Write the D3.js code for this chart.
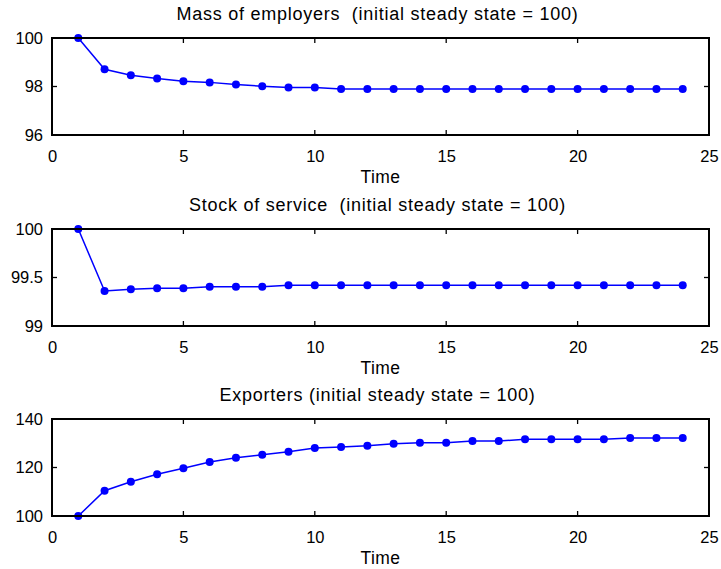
<!DOCTYPE html>
<html>
<head>
<meta charset="utf-8">
<script src="https://cdn.jsdelivr.net/npm/d3@7"></script>
<style>
  html, body { margin: 0; padding: 0; background: #fff; }
  svg text { font-family: "Liberation Sans", Arial, Helvetica, sans-serif; fill: #000; white-space: pre; }
</style>
</head>
<body>
<svg id="chart" width="721" height="569"></svg>
<script>
// Time periods of the impulse response
const time = d3.range(1, 25);

// Mass of employers (initial steady state = 100)
const employers = [100, 98.71, 98.46, 98.33, 98.22, 98.17, 98.08, 98.01, 97.96, 97.96, 97.90, 97.90,
  97.90, 97.90, 97.90, 97.90, 97.90, 97.90, 97.90, 97.90, 97.90, 97.90, 97.90, 97.90];

// Stock of service (initial steady state = 100)
const service = [100, 99.36, 99.38, 99.39, 99.39, 99.405, 99.405, 99.405, 99.42, 99.42, 99.42, 99.42,
  99.42, 99.42, 99.42, 99.42, 99.42, 99.42, 99.42, 99.42, 99.42, 99.42, 99.42, 99.42];

// Exporters (initial steady state = 100)
const exporters = [100, 110.4, 114.1, 117.2, 119.7, 122.3, 124.0, 125.3, 126.5, 128.0, 128.5, 129.0,
  129.8, 130.2, 130.2, 130.9, 130.9, 131.6, 131.6, 131.6, 131.6, 132.2, 132.2, 132.2];

const titles = [
  "Mass of employers  (initial steady state = 100)",
  "Stock of service  (initial steady state = 100)",
  "Exporters (initial steady state = 100)"
];
const xTicks = [0, 5, 10, 15, 20, 25];
const yDomains = [[96, 100], [99, 100], [100, 140]];
const yTicks = [[96, 98, 100], [99, 99.5, 100], [100, 120, 140]];
const xLabel = "Time";

const series = [employers, service, exporters];

const svg = d3.select("#chart");
const left = 52, right = 709;
const panelTops = [38, 229, 419];
const panelH = 97;
const color = "#0000ff";

const x = d3.scaleLinear().domain([0, 25]).range([left, right]);

series.forEach((vals, i) => {
  const top = panelTops[i], bottom = top + panelH;
  const y = d3.scaleLinear().domain(yDomains[i]).range([bottom, top]);
  const g = svg.append("g");

  // inward ticks on all four sides
  const tickLen = 5;
  const xt = g.append("g").attr("stroke", "#000").attr("stroke-width", 1.3);
  xTicks.forEach(t => {
    xt.append("line").attr("x1", x(t)).attr("x2", x(t)).attr("y1", bottom).attr("y2", bottom - tickLen);
    xt.append("line").attr("x1", x(t)).attr("x2", x(t)).attr("y1", top).attr("y2", top + tickLen);
  });
  yTicks[i].forEach(t => {
    xt.append("line").attr("x1", left).attr("x2", left + tickLen).attr("y1", y(t)).attr("y2", y(t));
    xt.append("line").attr("x1", right).attr("x2", right - tickLen).attr("y1", y(t)).attr("y2", y(t));
  });

  // bottom axis labels via d3 axis
  const xAxis = d3.axisBottom(x).tickValues(xTicks).tickSize(0).tickPadding(15).tickFormat(d3.format("d"));
  const xa = g.append("g").attr("transform", `translate(0,${bottom})`).call(xAxis);
  xa.select(".domain").remove();
  xa.selectAll("text").attr("font-size", 16.5).attr("font-family", null).attr("fill", "#000");

  const yAxis = d3.axisLeft(y).tickValues(yTicks[i]).tickSize(0).tickPadding(9).tickFormat(d => String(d));
  const ya = g.append("g").attr("transform", `translate(${left},0)`).call(yAxis);
  ya.select(".domain").remove();
  ya.selectAll("text").attr("font-size", 16.5).attr("font-family", null).attr("fill", "#000");

  // series line and markers
  const line = d3.line().x((d, k) => x(time[k])).y(d => y(d));
  g.append("path").datum(vals)
    .attr("d", line).attr("fill", "none").attr("stroke", color).attr("stroke-width", 1.5);
  g.selectAll("circle.pt").data(vals).join("circle")
    .attr("class", "pt")
    .attr("cx", (d, k) => x(time[k])).attr("cy", d => y(d)).attr("r", 4)
    .attr("fill", color);

  // axes box
  g.append("rect").attr("x", left).attr("y", top).attr("width", right - left).attr("height", panelH)
    .attr("fill", "none").attr("stroke", "#000").attr("stroke-width", 2);

  // title and x label
  g.append("text").attr("x", (left + right) / 2 - 3).attr("y", top - 18)
    .attr("text-anchor", "middle").attr("font-size", 18).attr("letter-spacing", 0.75).text(titles[i]);
  g.append("text").attr("x", (left + right) / 2).attr("y", bottom + 48)
    .attr("text-anchor", "middle").attr("font-size", 17.5).attr("letter-spacing", 0.4).text(xLabel);
});
</script>
</body>
</html>
